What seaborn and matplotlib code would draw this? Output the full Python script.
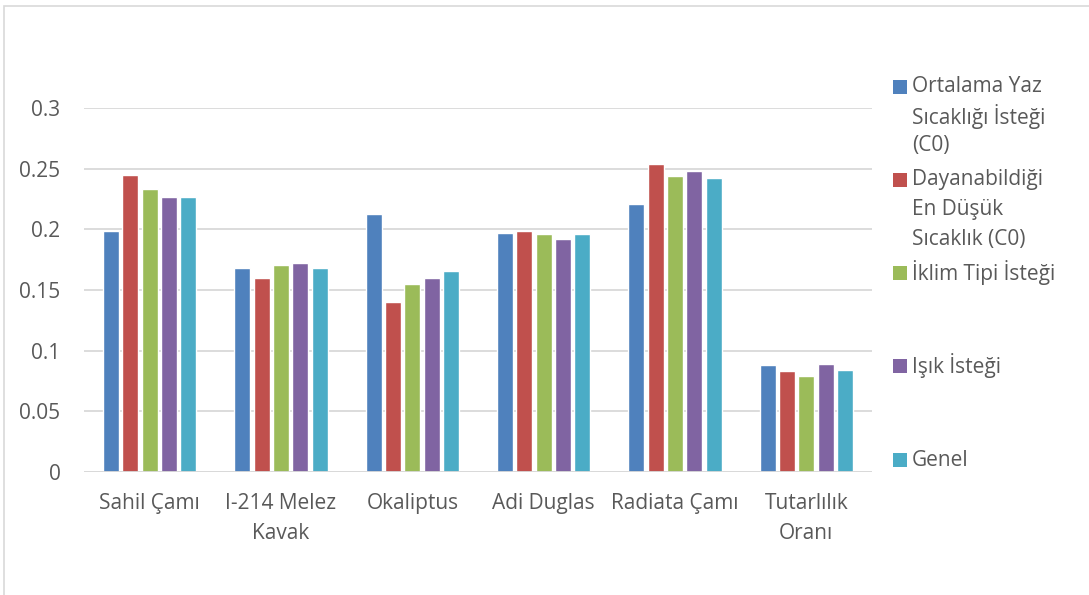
import numpy as np
import pandas as pd
import matplotlib
matplotlib.use("Agg")
import matplotlib.pyplot as plt
from matplotlib.patches import Rectangle
import seaborn as sns

# ==============================
# DATA
# ==============================
categories = ["Sahil Çamı", "I-214 Melez\nKavak", "Okaliptus", "Adi Duglas",
              "Radiata Çamı", "Tutarlılık\nOranı"]
series_names = ["Ortalama Yaz Sıcaklığı İsteği (C0)",
                "Dayanabildiği En Düşük Sıcaklık (C0)",
                "İklim Tipi İsteği", "Işık İsteği", "Genel"]
legend_lines = [["Ortalama Yaz", "Sıcaklığı İsteği", "(C0)"],
                ["Dayanabildiği", "En Düşük", "Sıcaklık (C0)"],
                ["İklim Tipi İsteği"], ["Işık İsteği"], ["Genel"]]
yaz_sicakligi = [0.199, 0.168, 0.213, 0.197, 0.221, 0.088]
en_dusuk_sicaklik = [0.245, 0.160, 0.140, 0.199, 0.254, 0.083]
iklim_tipi = [0.233, 0.171, 0.155, 0.196, 0.244, 0.079]
isik = [0.227, 0.172, 0.160, 0.192, 0.248, 0.089]
genel = [0.227, 0.168, 0.166, 0.196, 0.242, 0.084]
y_ticks = [0, 0.05, 0.1, 0.15, 0.2, 0.25, 0.3]
y_tick_labels = ["0", "0.05", "0.1", "0.15", "0.2", "0.25", "0.3"]

colors = ["#4F81BD", "#C0504D", "#9BBB59", "#8064A2", "#4BACC6"]

all_values = [yaz_sicakligi, en_dusuk_sicaklik, iklim_tipi, isik, genel]
df = pd.DataFrame({
    "kategori": np.tile(categories, len(series_names)),
    "seri": np.repeat(series_names, len(categories)),
    "deger": np.concatenate(all_values),
})

# ==============================
# FIGURE
# ==============================
sns.set_theme(style="white")
plt.rcParams["font.family"] = ["Open Sans", "DejaVu Sans"]
text_color = "#595959"
grid_color = "#D9D9D9"
fs = 15

fig = plt.figure(figsize=(10.89, 5.95), dpi=100)
ax = fig.add_axes([84 / 1089, 1 - 472 / 595, 788 / 1089, 364 / 595])

sns.barplot(data=df, x="kategori", y="deger", hue="seri", order=categories,
            hue_order=series_names, palette=colors, width=0.735, gap=0.16,
            saturation=1, legend=False, ax=ax, zorder=3)

ax.set_xlim(-0.5, len(categories) - 0.5)
ax.set_ylim(0, 0.3)
ax.set_yticks(y_ticks, y_tick_labels)
ax.set_xticks(range(len(categories)), categories, linespacing=1.6)
ax.set_xlabel("")
ax.set_ylabel("")
for s in ax.spines.values():
    s.set_visible(False)
ax.grid(axis="y", color=grid_color, linewidth=1.3, zorder=0)
ax.axhline(0, color=grid_color, linewidth=1.3, zorder=4)
ax.tick_params(axis="y", length=0, pad=17, labelsize=fs, labelcolor=text_color)
ax.tick_params(axis="x", length=0, pad=15, labelsize=fs, labelcolor=text_color)

# outer chart border (clipped at right / bottom like the source)
fig.patches.append(Rectangle((4 / 1089, -0.1), 1.2, 1 - 6 / 595 + 0.1,
                             transform=fig.transFigure, fill=False,
                             edgecolor=grid_color, linewidth=1.2))

# ==============================
# LEGEND
# ==============================
entry_centers = [87, 180, 273, 366, 460]
line_step = 29.5
for lines, col, yc in zip(legend_lines, colors, entry_centers):
    fig.patches.append(Rectangle((893 / 1089, 1 - (yc + 7) / 595), 14 / 1089, 14 / 595,
                                 transform=fig.transFigure, facecolor=col,
                                 edgecolor="none"))
    for i, line in enumerate(lines):
        fig.text(912 / 1089, 1 - (yc + i * line_step) / 595, line, fontsize=fs,
                 color=text_color, va="center", ha="left")

fig.savefig("out.png", dpi=100)
